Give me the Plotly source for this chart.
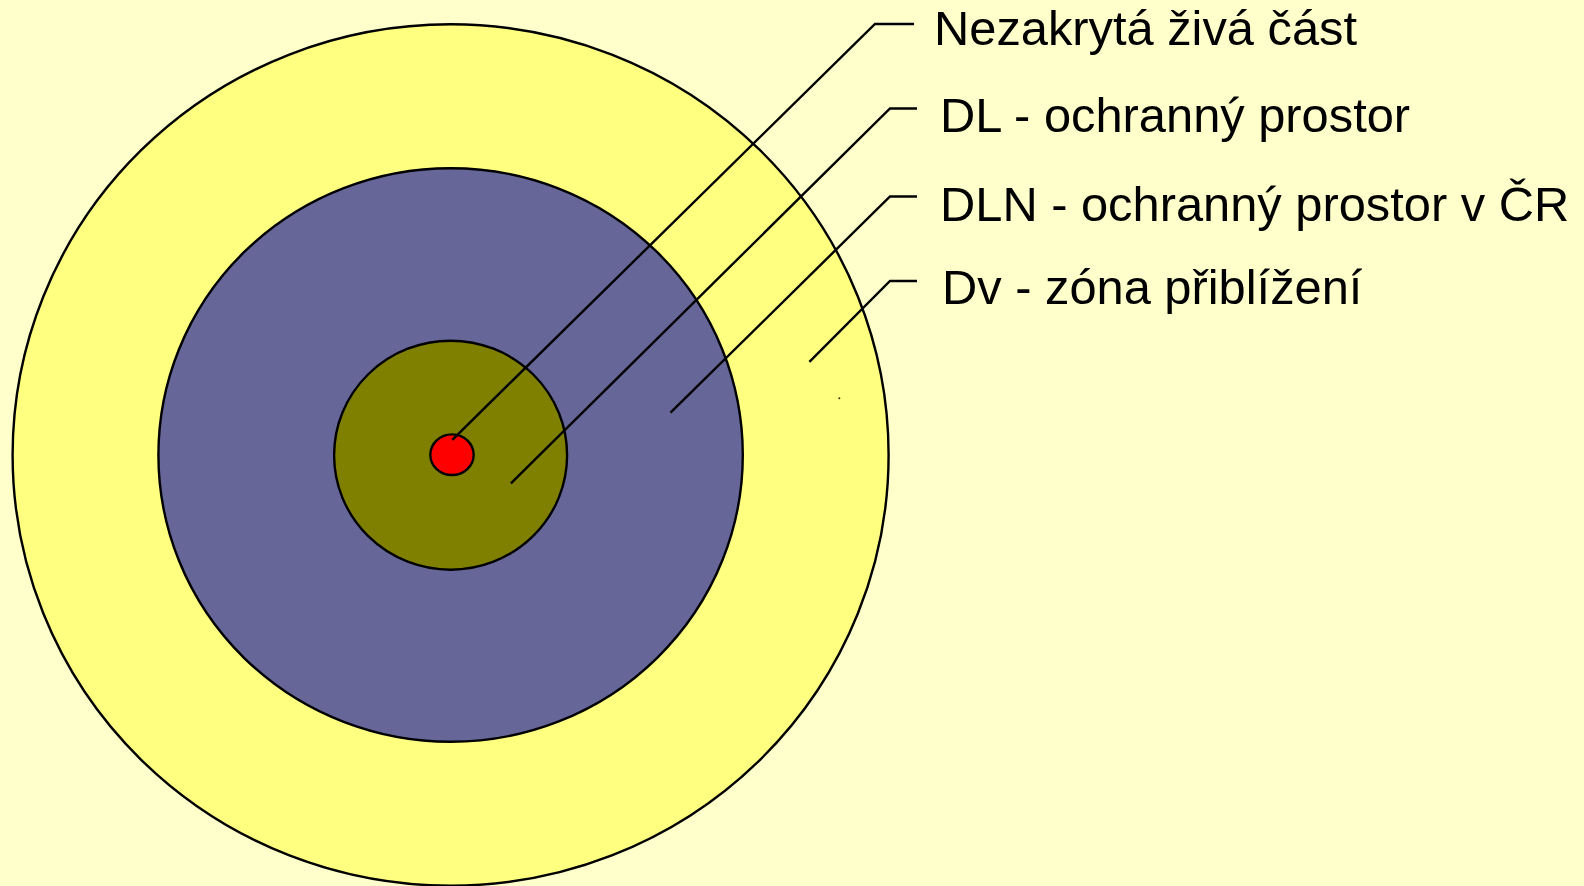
import plotly.graph_objects as go

# ---- data ----
zone_names = ["Dv - zóna přiblížení", "DLN - ochranný prostor v ČR",
              "DL - ochranný prostor", "Nezakrytá živá část"]
zone_rx = [438.0, 292.2, 116.5, 21.7]
zone_ry = [430.7, 286.8, 114.5, 20.3]
zone_cx = [450.6, 450.6, 450.6, 452.0]
zone_cy = [455.0, 455.0, 455.2, 454.7]
zone_colors = ["#FFFF80", "#666699", "#808000", "#FF0000"]

# leader lines: start point inside zone, elbow, end of horizontal tick
label_texts = ["Nezakrytá živá část", "DL - ochranný prostor",
               "DLN - ochranný prostor v ČR", "Dv - zóna přiblížení"]
lead_x0 = [452.3, 510.9, 670.5, 809.4]
lead_y0 = [439.8, 483.3, 412.7, 361.8]
lead_x1 = [875.0, 890.0, 890.0, 890.0]
lead_y1 = [24.0, 108.5, 196.5, 281.0]
lead_x2 = [914.0, 917.0, 917.0, 917.0]
label_x = [932.0, 937.5, 937.5, 939.5]
label_y = [28.3, 114.8, 203.8, 286.8]

W, H = 1584, 886
BG = "#FFFFCC"

fig = go.Figure()

shapes = []
for cx, cy, rx, ry, col in zip(zone_cx, zone_cy, zone_rx, zone_ry, zone_colors):
    shapes.append(dict(type="circle", xref="x", yref="y",
                       x0=cx - rx, x1=cx + rx, y0=cy - ry, y1=cy + ry,
                       fillcolor=col, line=dict(color="black", width=2.4),
                       layer="below"))

for x0, y0, x1, y1, x2 in zip(lead_x0, lead_y0, lead_x1, lead_y1, lead_x2):
    fig.add_trace(go.Scatter(x=[x0, x1, x2], y=[y0, y1, y1], mode="lines",
                             line=dict(color="black", width=2.4),
                             hoverinfo="skip", showlegend=False))

# tiny speck present in the original
fig.add_trace(go.Scatter(x=[839.3], y=[398.3], mode="markers",
                         marker=dict(size=2, color="#333300", line=dict(width=0)),
                         hoverinfo="skip", showlegend=False))

annotations = []
for t, x, y in zip(label_texts, label_x, label_y):
    annotations.append(dict(text=t, x=x, y=y, xref="x", yref="y",
                            xanchor="left", yanchor="middle", showarrow=False,
                            font=dict(family="Liberation Sans, Arial", size=48.8,
                                      color="black")))

fig.update_layout(
    width=W, height=H,
    margin=dict(l=0, r=0, t=0, b=0),
    paper_bgcolor=BG, plot_bgcolor=BG,
    shapes=shapes, annotations=annotations,
    xaxis=dict(range=[0, W], visible=False, fixedrange=True),
    yaxis=dict(range=[H, 0], visible=False, fixedrange=True),
    showlegend=False,
)

fig.write_html(
    "out.html",
    config={"displayModeBar": False},
    post_script="document.body.style.margin='0';document.body.style.overflow='hidden';"
                "document.body.style.background='#FFFFCC';",
)
